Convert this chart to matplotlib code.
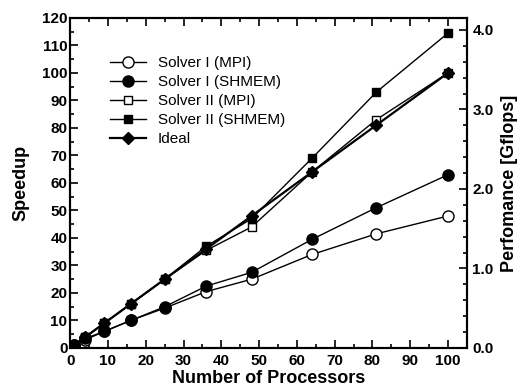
import matplotlib
matplotlib.use("Agg")
import matplotlib.pyplot as plt
from matplotlib.ticker import MultipleLocator, FormatStrFormatter

procs = [1, 4, 9, 16, 25, 36, 48, 64, 81, 100]
solver1_mpi = [1, 3, 6, 10, 14.5, 20.5, 25, 34, 41.5, 48]
solver1_shmem = [1, 3.5, 6, 10, 15, 22.5, 27.5, 39.5, 51, 63]
solver2_mpi = [1, 4, 9, 16, 25, 35.5, 44, 64, 83, 100]
solver2_shmem = [1, 4, 9, 16, 25, 37, 47, 69, 93, 114.5]
ideal = [1, 4, 9, 16, 25, 36, 48, 64, 81, 100]
labels = ["Solver I (MPI)", "Solver I (SHMEM)", "Solver II (MPI)", "Solver II (SHMEM)", "Ideal"]

plt.rcParams['font.family'] = ['Liberation Sans', 'DejaVu Sans']

fig = plt.figure(figsize=(5.24, 3.91), dpi=100)
ax = fig.add_axes([0.134, 0.110, 0.757, 0.844])

lw = 1.0
ax.plot(procs, solver1_mpi, '-o', color='black', mfc='white', ms=8, lw=lw, mew=1.0, label=labels[0])
ax.plot(procs, solver1_shmem, '-o', color='black', mfc='black', ms=8, lw=lw, label=labels[1])
ax.plot(procs, solver2_mpi, '-s', color='black', mfc='white', ms=6, lw=lw, mew=1.0, label=labels[2])
ax.plot(procs, solver2_shmem, '-s', color='black', mfc='black', ms=6, lw=lw, label=labels[3])
ax.plot(procs, ideal, '-D', color='black', mfc='black', ms=6, lw=1.6, label=labels[4])

ax.set_xlim(0, 105)
ax.set_ylim(0, 120)
ax.xaxis.set_major_locator(MultipleLocator(10))
ax.xaxis.set_minor_locator(MultipleLocator(5))
ax.yaxis.set_major_locator(MultipleLocator(10))
ax.yaxis.set_minor_locator(MultipleLocator(5))
ax.tick_params(which='both', direction='in', top=True, right=False, width=1.2)
ax.tick_params(which='major', length=6)
ax.tick_params(which='minor', length=3)
ax.tick_params(axis='x', pad=4)
ax.tick_params(axis='y', pad=2)
for lab in ax.get_xticklabels() + ax.get_yticklabels():
    lab.set_fontweight('bold')
    lab.set_fontsize(11)
for s in ax.spines.values():
    s.set_linewidth(1.5)

ax.set_xlabel("Number of Processors", fontsize=13, fontweight='bold', labelpad=2)
ax.set_ylabel("Speedup", fontsize=13, fontweight='bold', labelpad=9)

ax2 = ax.twinx()
ax2.set_ylim(0, 4.15)
ax2.yaxis.set_major_locator(MultipleLocator(1.0))
ax2.yaxis.set_minor_locator(MultipleLocator(0.2))
ax2.yaxis.set_major_formatter(FormatStrFormatter('%.1f'))
ax2.tick_params(which='both', direction='in', width=1.2, pad=4)
ax2.tick_params(which='major', length=6)
ax2.tick_params(which='minor', length=3)
for lab in ax2.get_yticklabels():
    lab.set_fontweight('bold')
    lab.set_fontsize(11)
ax2.set_ylabel("Perfomance [Gflops]", fontsize=13, fontweight='bold', labelpad=5)
for s in ax2.spines.values():
    s.set_linewidth(1.5)

leg = ax.legend(loc='upper left', bbox_to_anchor=(0.086, 0.903), frameon=False,
                fontsize=11, handlelength=2.3, labelspacing=0.33, handletextpad=0.8,
                borderaxespad=0)

fig.savefig("out.png", dpi=100)
